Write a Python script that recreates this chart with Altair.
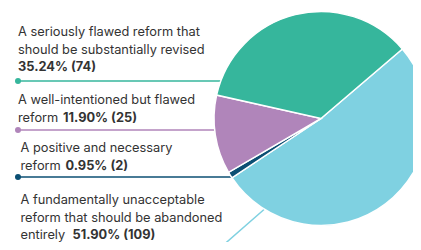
import math
import altair as alt
import pandas as pd

# ---- data ----
categories = [
    "A fundamentally unacceptable reform that should be abandoned entirely",
    "A positive and necessary reform",
    "A well-intentioned but flawed reform",
    "A seriously flawed reform that should be substantially revised",
]
values = [109, 2, 25, 74]
colors = ["#7fd1e1", "#0b4f73", "#b085ba", "#36b69c"]
label_lines = [
    ["A fundamentally unacceptable", "reform that should be abandoned", "entirely "],
    ["A positive and necessary", "reform "],
    ["A well-intentioned but flawed", "reform "],
    ["A seriously flawed reform that", "should be substantially revised", ""],
]

# ---- layout ----
CX, CY, R = 313, 110.5, 107
START_DEG = 49.5
label_top = [192, 140, 92, 24]
label_x = [12.5, 12.5, 10, 10]
bold_dx = [52, 45, 45, 0]
LINE_H = 17.5
leader_y = [240, 169, 122, 73]
leader_edge_deg = [212, None, None, None]  # bent leader for largest slice
elbow_x = [212, None, None, None]
DOT_X = 10
FONT_SIZE = 12.8

total = sum(values)
pct_text = [f"{v / total * 100:.2f}% ({v})" for v in values]

pie_df = pd.DataFrame({"cat": categories, "value": values, "ord": list(range(len(values)))})

norm_rows, bold_rows = [], []
for i, lines in enumerate(label_lines):
    for j, ln in enumerate(lines):
        y = label_top[i] + j * LINE_H
        if ln.strip():
            norm_rows.append({"x": label_x[i], "y": y, "t": ln})
        if j == len(lines) - 1:
            bold_rows.append({"x": label_x[i] + bold_dx[i], "y": y, "t": pct_text[i]})
norm_df = pd.DataFrame(norm_rows)
bold_df = pd.DataFrame(bold_rows)

line_rows, dot_rows = [], []
for i, cat in enumerate(categories):
    y = leader_y[i]
    pts = [(DOT_X, y)]
    if leader_edge_deg[i] is not None:
        a = math.radians(leader_edge_deg[i])
        pts.append((elbow_x[i], y))
        pts.append((CX + R * math.sin(a), CY - R * math.cos(a)))
    else:
        pts.append((CX - math.sqrt(R * R - (y - CY) ** 2), y))
    for k, (px, py) in enumerate(pts):
        line_rows.append({"cat": cat, "k": k, "x": px, "y": py})
    dot_rows.append({"cat": cat, "x": DOT_X, "y": y})
line_df = pd.DataFrame(line_rows)
dot_df = pd.DataFrame(dot_rows)

color_scale = alt.Scale(domain=categories, range=colors)
a0 = math.radians(START_DEG)

pie = alt.Chart(pie_df).mark_arc(radius=R, stroke="white", strokeWidth=1.5).encode(
    theta=alt.Theta("value:Q", stack=True, scale=alt.Scale(range=[a0, a0 + 2 * math.pi])),
    color=alt.Color("cat:N", scale=color_scale, legend=None),
    order=alt.Order("ord:Q"),
    x=alt.value(CX),
    y=alt.value(CY),
)

leaders = alt.Chart(line_df).mark_line(strokeWidth=1.5).encode(
    x=alt.X("x:Q", scale=None, axis=None),
    y=alt.Y("y:Q", scale=None, axis=None),
    detail="cat:N",
    order="k:Q",
    color=alt.Color("cat:N", scale=color_scale, legend=None),
)

dots = alt.Chart(dot_df).mark_circle(size=36, opacity=1).encode(
    x=alt.X("x:Q", scale=None, axis=None),
    y=alt.Y("y:Q", scale=None, axis=None),
    color=alt.Color("cat:N", scale=color_scale, legend=None),
)

texts = alt.Chart(norm_df).mark_text(
    align="left", baseline="middle", font="Inter", fontSize=FONT_SIZE, color="#333333"
).encode(
    x=alt.X("x:Q", scale=None, axis=None),
    y=alt.Y("y:Q", scale=None, axis=None),
    text="t:N",
)

bold_texts = alt.Chart(bold_df).mark_text(
    align="left", baseline="middle", font="Inter", fontSize=FONT_SIZE, fontWeight="bold", color="#333333"
).encode(
    x=alt.X("x:Q", scale=None, axis=None),
    y=alt.Y("y:Q", scale=None, axis=None),
    text="t:N",
)

chart = alt.layer(leaders, dots, pie, texts, bold_texts).properties(
    width=405, height=234, padding=0, autosize=alt.AutoSizeParams(type="none")
).configure_view(stroke=None)

chart.save("out.html", embed_options={"renderer": "svg", "actions": False})
